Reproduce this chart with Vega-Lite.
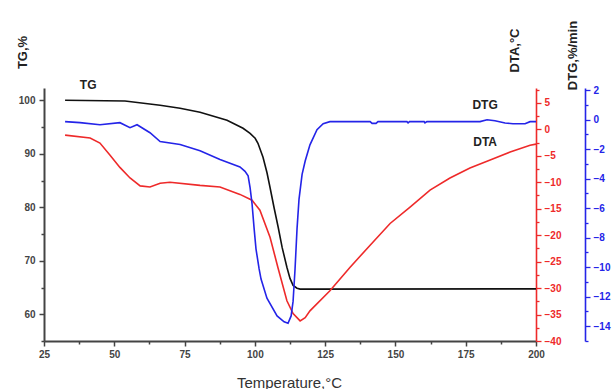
{
  "$schema": "https://vega.github.io/schema/vega-lite/v6.json",
  "width": 492,
  "height": 253,
  "autosize": {"type": "none"},
  "padding": {"left": 44, "top": 88, "right": 80, "bottom": 48},
  "background": "white",
  "config": {
    "view": {"stroke": null},
    "axis": {
      "grid": false,
      "labelFont": "Liberation Sans",
      "labelFontWeight": "bold",
      "labelFontSize": 10,
      "titleFont": "Liberation Sans",
      "labelOverlap": false,
      "labelFlush": false
    },
    "text": {"font": "Liberation Sans"}
  },
  "datasets": {
    "tg": [
      {"T": 32.5, "v": 100.0}, {"T": 53.8, "v": 99.87}, {"T": 66.3, "v": 99.07}, {"T": 73.4, "v": 98.5},
      {"T": 80.5, "v": 97.76}, {"T": 90.1, "v": 96.26}, {"T": 95.8, "v": 94.77}, {"T": 98.3, "v": 93.83},
      {"T": 100.1, "v": 92.9}, {"T": 101.1, "v": 91.96}, {"T": 102.9, "v": 89.35}, {"T": 104.3, "v": 86.5},
      {"T": 105.4, "v": 83.7}, {"T": 106.8, "v": 80.0}, {"T": 108.3, "v": 76.26}, {"T": 109.7, "v": 72.5},
      {"T": 111.4, "v": 68.8}, {"T": 112.5, "v": 66.7}, {"T": 113.6, "v": 65.4}, {"T": 115.0, "v": 64.86},
      {"T": 116.1, "v": 64.7}, {"T": 200.0, "v": 64.75}
    ],
    "dta": [
      {"T": 32.5, "v": -1.1}, {"T": 41.4, "v": -1.65}, {"T": 44.9, "v": -2.6}, {"T": 48.5, "v": -4.9},
      {"T": 52.0, "v": -7.2}, {"T": 55.6, "v": -9.2}, {"T": 59.2, "v": -10.7}, {"T": 62.7, "v": -10.9},
      {"T": 66.3, "v": -10.2}, {"T": 69.8, "v": -10.0}, {"T": 80.5, "v": -10.6}, {"T": 87.6, "v": -10.9},
      {"T": 94.7, "v": -12.3}, {"T": 99.0, "v": -13.4}, {"T": 101.8, "v": -15.3}, {"T": 105.4, "v": -20.4},
      {"T": 108.2, "v": -26.1}, {"T": 111.4, "v": -32.4}, {"T": 113.6, "v": -34.8}, {"T": 116.1, "v": -36.2},
      {"T": 117.9, "v": -35.6}, {"T": 119.6, "v": -34.3}, {"T": 126.7, "v": -30.5}, {"T": 133.8, "v": -26.1},
      {"T": 141.0, "v": -21.9}, {"T": 148.1, "v": -17.8}, {"T": 155.2, "v": -14.7}, {"T": 162.3, "v": -11.5},
      {"T": 169.4, "v": -9.2}, {"T": 176.5, "v": -7.3}, {"T": 183.7, "v": -5.8}, {"T": 190.8, "v": -4.3},
      {"T": 197.9, "v": -3.0}, {"T": 200.0, "v": -2.8}
    ],
    "dtg": [
      {"T": 32.5, "v": -0.13}, {"T": 37.8, "v": -0.2}, {"T": 44.9, "v": -0.34}, {"T": 52.0, "v": -0.2},
      {"T": 55.6, "v": -0.54}, {"T": 58.1, "v": -0.34}, {"T": 62.7, "v": -0.88}, {"T": 66.3, "v": -1.48},
      {"T": 73.4, "v": -1.68}, {"T": 80.5, "v": -2.1}, {"T": 87.6, "v": -2.7}, {"T": 94.7, "v": -3.2},
      {"T": 96.5, "v": -3.5}, {"T": 97.6, "v": -3.8}, {"T": 98.3, "v": -4.6}, {"T": 99.0, "v": -5.7},
      {"T": 99.7, "v": -7.3}, {"T": 100.4, "v": -8.75}, {"T": 101.5, "v": -10.1}, {"T": 102.2, "v": -10.8},
      {"T": 104.3, "v": -12.1}, {"T": 107.9, "v": -13.3}, {"T": 110.4, "v": -13.7}, {"T": 111.8, "v": -13.8},
      {"T": 112.9, "v": -13.3}, {"T": 113.6, "v": -12.3}, {"T": 114.3, "v": -10.1}, {"T": 115.0, "v": -7.4},
      {"T": 115.7, "v": -5.4}, {"T": 116.8, "v": -3.7}, {"T": 117.9, "v": -2.8}, {"T": 119.6, "v": -1.7},
      {"T": 122.1, "v": -0.67}, {"T": 124.3, "v": -0.27}, {"T": 126.7, "v": -0.13}, {"T": 141.0, "v": -0.13},
      {"T": 141.7, "v": -0.25}, {"T": 143.1, "v": -0.25}, {"T": 143.8, "v": -0.13}, {"T": 154.1, "v": -0.13},
      {"T": 154.5, "v": -0.22}, {"T": 155.0, "v": -0.13}, {"T": 160.2, "v": -0.13}, {"T": 160.5, "v": -0.22},
      {"T": 161.2, "v": -0.13}, {"T": 180.1, "v": -0.13}, {"T": 182.6, "v": 0.0}, {"T": 185.4, "v": -0.07},
      {"T": 189.0, "v": -0.22}, {"T": 191.8, "v": -0.27}, {"T": 196.1, "v": -0.27}, {"T": 197.9, "v": -0.13},
      {"T": 200.0, "v": -0.13}
    ],
    "lab_tg": [{"T": 40.7, "v": 102.8, "label": "TG"}],
    "lab_dta": [{"T": 181.9, "v": -2.4, "label": "DTA"}],
    "lab_dtg": [{"T": 181.9, "v": 1.0, "label": "DTG"}]
  },
  "encoding": {
    "x": {
      "field": "T",
      "type": "quantitative",
      "scale": {"domain": [25, 200], "nice": false, "zero": false},
      "axis": {
        "values": [25, 37.5, 50, 62.5, 75, 87.5, 100, 112.5, 125, 137.5, 150, 162.5, 175, 187.5, 200],
        "labelExpr": "datum.value % 25 === 0 ? datum.label : ''",
        "tickSize": {"condition": {"test": "datum.value % 25 === 0", "value": 5}, "value": 3},
        "domainColor": "#444",
        "domainWidth": 2,
        "tickColor": "#444",
        "tickWidth": 1.5,
        "labelColor": "#444",
        "labelPadding": 3,
        "title": "Temperature,°C",
        "titleFontSize": 15,
        "titleFontWeight": "normal",
        "titleColor": "#333",
        "titleX": 245,
        "titleY": 41,
        "titleAlign": "center",
        "titleBaseline": "middle"
      }
    }
  },
  "layer": [
    {
      "encoding": {
        "y": {
          "field": "v",
          "type": "quantitative",
          "scale": {"domain": [55, 102.3], "nice": false, "zero": false},
          "axis": {
            "orient": "left",
            "values": [55, 60, 65, 70, 75, 80, 85, 90, 95, 100],
            "labelExpr": "datum.value % 10 === 0 ? datum.label : ''",
            "tickSize": {"condition": {"test": "datum.value % 10 === 0", "value": 5}, "value": 3},
            "domainColor": "#444",
            "domainWidth": 2,
            "tickColor": "#444",
            "tickWidth": 1.5,
            "labelColor": "#444",
            "labelPadding": 4,
            "title": "TG,%",
            "titleFontSize": 13,
            "titleFontWeight": "bold",
            "titleColor": "#222",
            "titleAngle": -90,
            "titleX": -22,
            "titleY": -36,
            "titleAlign": "center",
            "titleBaseline": "middle"
          }
        }
      },
      "layer": [
        {
          "data": {"name": "tg"},
          "mark": {"type": "line", "color": "#111111", "strokeWidth": 1.6}
        },
        {
          "data": {"name": "lab_tg"},
          "mark": {"type": "text", "fontSize": 12, "fontWeight": "bold", "color": "#222"},
          "encoding": {"text": {"field": "label"}}
        }
      ]
    },
    {
      "encoding": {
        "y": {
          "field": "v",
          "type": "quantitative",
          "scale": {"domain": [-40, 7.8], "nice": false, "zero": false},
          "axis": {
            "orient": "right",
            "values": [-40, -37.5, -35, -32.5, -30, -27.5, -25, -22.5, -20, -17.5, -15, -12.5, -10, -7.5, -5, -2.5, 0, 2.5, 5, 7.5],
            "labelExpr": "datum.value % 5 === 0 ? datum.label : ''",
            "tickSize": {"condition": {"test": "datum.value % 5 === 0", "value": 5}, "value": 3},
            "domainColor": "#ee2a2a",
            "domainWidth": 1.6,
            "tickColor": "#ee2a2a",
            "tickWidth": 1.3,
            "labelColor": "#ee2a2a",
            "labelPadding": 3,
            "title": "DTA,°C",
            "titleFontSize": 13,
            "titleFontWeight": "bold",
            "titleColor": "#222",
            "titleAngle": -90,
            "titleX": -22,
            "titleY": -38,
            "titleAlign": "center",
            "titleBaseline": "middle"
          }
        }
      },
      "layer": [
        {
          "data": {"name": "dta"},
          "mark": {"type": "line", "color": "#ee2a2a", "strokeWidth": 1.6}
        },
        {
          "data": {"name": "lab_dta"},
          "mark": {"type": "text", "fontSize": 12, "fontWeight": "bold", "color": "#222"},
          "encoding": {"text": {"field": "label"}}
        }
      ]
    },
    {
      "encoding": {
        "y": {
          "field": "v",
          "type": "quantitative",
          "scale": {"domain": [-15, 2.15], "nice": false, "zero": false},
          "axis": {
            "orient": "right",
            "offset": 49,
            "values": [-15, -14, -13, -12, -11, -10, -9, -8, -7, -6, -5, -4, -3, -2, -1, 0, 1, 2],
            "labelExpr": "datum.value % 2 === 0 ? datum.label : ''",
            "tickSize": {"condition": {"test": "datum.value % 2 === 0", "value": 5}, "value": 3},
            "domainColor": "#2424e8",
            "domainWidth": 1.6,
            "tickColor": "#2424e8",
            "tickWidth": 1.3,
            "labelColor": "#2424e8",
            "labelPadding": 3,
            "title": "DTG,%/min",
            "titleFontSize": 13,
            "titleFontWeight": "bold",
            "titleColor": "#222",
            "titleAngle": -90,
            "titleX": -13,
            "titleY": -33,
            "titleAlign": "center",
            "titleBaseline": "middle"
          }
        }
      },
      "layer": [
        {
          "data": {"name": "dtg"},
          "mark": {"type": "line", "color": "#2424e8", "strokeWidth": 1.6}
        },
        {
          "data": {"name": "lab_dtg"},
          "mark": {"type": "text", "fontSize": 12, "fontWeight": "bold", "color": "#222"},
          "encoding": {"text": {"field": "label"}}
        }
      ]
    }
  ],
  "resolve": {"scale": {"y": "independent"}, "axis": {"y": "independent"}}
}
